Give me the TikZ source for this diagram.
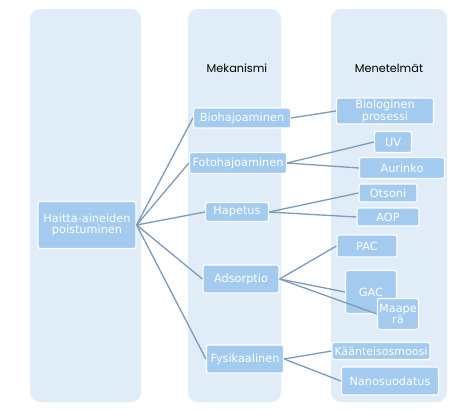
\documentclass[tikz,border=0pt]{standalone}
\usepackage{fontspec}
\setmainfont{DejaVu Sans}
\newfontfamily\headfont{Poppins}
\definecolor{colbg}{HTML}{E0EDF9}
\definecolor{nodefill}{HTML}{A3CBEF}
\definecolor{linkcol}{HTML}{7D9BB9}
\tikzset{
  colbox/.style={fill=colbg, draw=none, rounded corners=10pt},
  itembox/.style={rectangle, rounded corners=2pt, fill=nodefill, draw=white, line width=1.2pt,
    text=white, inner sep=0pt, align=center, font=\fontsize{11.3}{11.5}\selectfont},
  headtext/.style={font=\headfont\fontsize{11.3}{12}\selectfont, text=black},
  link/.style={draw=linkcol, line width=1.3pt}
}
\begin{document}
\begin{tikzpicture}[x=1pt,y=-1pt]
\useasboundingbox (0,0) rectangle (471,410);
\fill[white] (0,0) rectangle (471,410);
% columns
\path[colbox] (30,9) rectangle (141,402);
\path[colbox] (188,9) rectangle (281,402);
\path[colbox] (331,9) rectangle (447,402);
% headers
\node[headtext] (hmek) at (237,68) {Mekanismi};
\node[headtext] (hmen) at (389,68) {Menetelmät};
% nodes
\node[itembox, minimum width=98pt, minimum height=47pt] (haitta) at (87,225) {Haitta-aineiden\\poistuminen};
\node[itembox, minimum width=97pt, minimum height=20pt] (bio) at (242,118) {Biohajoaminen};
\node[itembox, minimum width=97pt, minimum height=21pt] (foto) at (238,163) {Fotohajoaminen};
\node[itembox, minimum width=63pt, minimum height=19pt] (hap) at (237,212) {Hapetus};
\node[itembox, minimum width=76pt, minimum height=28pt] (ads) at (241,279) {Adsorptio};
\node[itembox, minimum width=77pt, minimum height=28pt] (fys) at (245,359) {Fysikaalinen};
\node[itembox, minimum width=97pt, minimum height=26pt, font=\fontsize{11.3}{10.5}\selectfont] (biol) at (385,111) {Biologinen\\prosessi};
\node[itembox, minimum width=37pt, minimum height=21pt] (uv) at (393,142) {UV};
\node[itembox, minimum width=85pt, minimum height=21pt] (aur) at (402,168) {Aurinko};
\node[itembox, minimum width=58pt, minimum height=18pt] (ots) at (388,193) {Otsoni};
\node[itembox, minimum width=62pt, minimum height=18pt] (aop) at (388,217) {AOP};
\node[itembox, minimum width=60pt, minimum height=22pt] (pac) at (367,246) {PAC};
\node[itembox, minimum width=51pt, minimum height=43pt] (gac) at (371,292) {GAC};
\node[itembox, minimum width=41pt, minimum height=31pt, font=\fontsize{11.3}{11}\selectfont] (maa) at (398,314) {Maape\\rä};
\node[itembox, minimum width=98pt, minimum height=17pt, font=\fontsize{11}{11}\selectfont] (kaan) at (381,351) {Käänteisosmoosi};
\node[itembox, minimum width=97pt, minimum height=28pt] (nano) at (390,381) {Nanosuodatus};
% connectors
\foreach \t in {bio,foto,hap,ads,fys}
  \draw[link] (haitta.east) -- (\t.west);
\draw[link] (bio.east) -- (biol.west);
\draw[link] (foto.east) -- (uv.west);
\draw[link] (foto.east) -- (aur.west);
\draw[link] (hap.east) -- (ots.west);
\draw[link] (hap.east) -- (aop.west);
\draw[link] (ads.east) -- (pac.west);
\draw[link] (ads.east) -- (gac.west);
\draw[link] (ads.east) -- (maa.west);
\draw[link] (fys.east) -- (kaan.west);
\draw[link] (fys.east) -- (nano.west);
\end{tikzpicture}
\end{document}
